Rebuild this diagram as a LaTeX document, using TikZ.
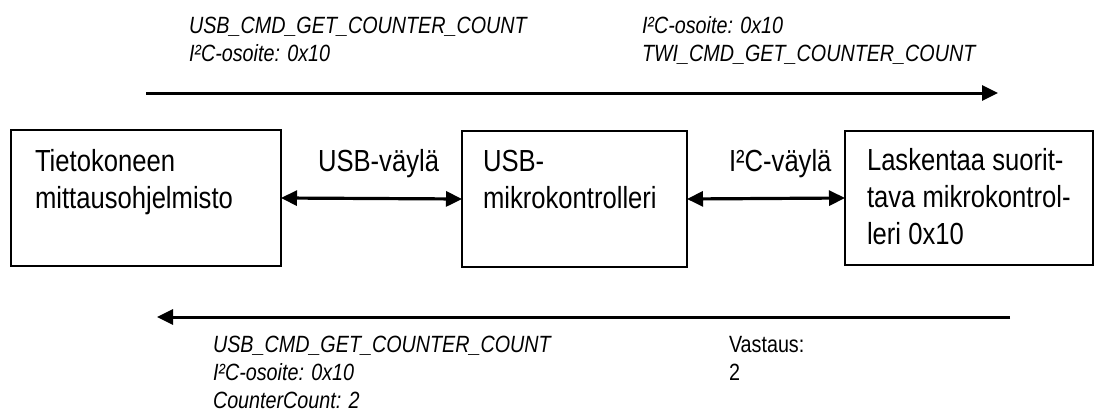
\documentclass[tikz,border=0pt]{standalone}
\usepackage{fontspec}
\setmainfont{Liberation Sans}[FakeStretch=0.84]
\usetikzlibrary{arrows.meta}

\tikzset{
  blockbox/.style={draw=black, line width=2pt, inner sep=0pt, outer sep=0pt},
  blocktext/.style={inner sep=0pt, outer sep=0pt, anchor=north west, align=left,
    font=\fontsize{30.5}{37}\selectfont},
  buslabel/.style={inner sep=0pt, outer sep=0pt, anchor=base west,
    font=\fontsize{30.5}{37}\selectfont},
  msgtext/.style={inner sep=0pt, outer sep=0pt, anchor=north west, align=left,
    font=\fontsize{23.5}{28}\selectfont},
  bus/.style={line width=3.2pt, {Triangle[length=16pt,width=15pt]}-{Triangle[length=16pt,width=15pt]}},
  flow/.style={line width=3pt, -{Triangle[length=16pt,width=15pt]}}
}

\begin{document}
\begin{tikzpicture}[x=1pt, y=-1pt]
  \useasboundingbox (0,0) rectangle (1095,412);

  % the three blocks
  \node[blockbox, minimum width=270pt, minimum height=136pt] (pc)  at (146,198) {};
  \node[blockbox, minimum width=225pt, minimum height=136pt] (usb) at (574.5,199) {};
  \node[blockbox, minimum width=248pt, minimum height=134pt] (cnt) at (969,198) {};

  \node[blocktext] (pctext)  at (35,149)  {Tietokoneen\\mittausohjelmisto};
  \node[blocktext] (usbtext) at (483,150) {USB-\\mikrokontrolleri};
  \node[blocktext] (cnttext) at (867,148) {Laskentaa suorit-\\tava mikrokontrol-\\leri 0x10};

  % buses between the blocks
  \draw[bus] (pc.east) -- (usb.west);
  \draw[bus] (usb.east) -- (cnt.west);
  \node[buslabel] (usblabel) at (318,171) {USB-väylä};
  \node[buslabel] (i2clabel) at (729,171) {I²C-väylä};

  % request going out
  \coordinate (reqstart) at (146,93);
  \coordinate (reqend)   at (998,93);
  \draw[flow] (reqstart) -- (reqend);
  \node[msgtext] (requsb) at (189,17) {\itshape USB\_CMD\_GET\_COUNTER\_COUNT\\\itshape I²C-osoite: 0x10};
  \node[msgtext] (reqtwi) at (642,16) {\itshape I²C-osoite: 0x10\\\itshape TWI\_CMD\_GET\_COUNTER\_COUNT};

  % answer coming back
  \coordinate (ansstart) at (1010,317);
  \coordinate (ansend)   at (157,317);
  \draw[flow] (ansstart) -- (ansend);
  \node[msgtext] (ansusb) at (213,336) {\itshape USB\_CMD\_GET\_COUNTER\_COUNT\\\itshape I²C-osoite: 0x10\\\itshape CounterCount: 2};
  \node[msgtext] (anstwi) at (729,336) {Vastaus:\\2};
\end{tikzpicture}
\end{document}
